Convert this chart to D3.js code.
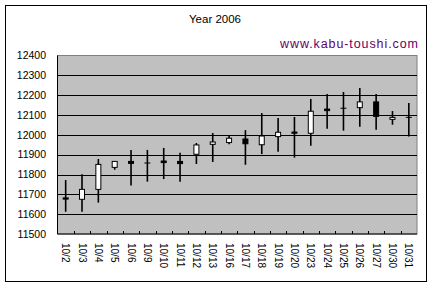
<!DOCTYPE html>
<html>
<head>
<meta charset="utf-8">
<script src="https://cdn.jsdelivr.net/npm/d3@7"></script>
<style>
  body { margin: 0; background: #fff; }
  svg { display: block; font-family: "Liberation Sans", Arial, sans-serif; }
</style>
</head>
<body>
<svg></svg>
<script>
var width = 432,
    height = 288;

var dates = ["10/2", "10/3", "10/4", "10/5", "10/6", "10/9", "10/10", "10/11", "10/12", "10/13", "10/16",
    "10/17", "10/18", "10/19", "10/20", "10/23", "10/24", "10/25", "10/26", "10/27", "10/30", "10/31"];
var open = [11682, 11675, 11725, 11836, 11866, 11858, 11868, 11866, 11902, 11952, 11961,
    11979, 11950, 11991, 12014, 12008, 12130, 12134, 12137, 12166, 12078, 12088];
var high = [11772, 11801, 11878, 11866, 11924, 11924, 11934, 11910, 11959, 12009, 11994,
    12024, 12110, 12085, 12090, 12181, 12206, 12216, 12236, 12206, 12120, 12161];
var low = [11612, 11612, 11658, 11824, 11744, 11764, 11777, 11764, 11853, 11863, 11952,
    11849, 11903, 11915, 11885, 11945, 12031, 12021, 12041, 12026, 12051, 11991];
var close = [11676, 11725, 11851, 11866, 11856, 11858, 11860, 11855, 11949, 11964, 11983,
    11955, 11994, 12013, 12008, 12119, 12122, 12134, 12166, 12093, 12088, 12088];
var yTicks = [11500, 11600, 11700, 11800, 11900, 12000, 12100, 12200, 12300, 12400];

var data = dates.map((d, i) => ({ date: d, o: open[i], h: high[i], l: low[i], c: close[i] }));

var svg = d3.select("svg")
    .attr("width", width)
    .attr("height", height);

var plot = { left: 57.5, right: 417, top: 55.5, bottom: 234 };

var x = d3.scaleBand()
    .domain(dates)
    .range([plot.left, plot.right])
    .padding(0);
var y = d3.scaleLinear()
    .domain([11500, 12400])
    .range([plot.bottom, plot.top]);

// chart frame
svg.append("rect")
    .attr("x", 5.5).attr("y", 5.5)
    .attr("width", 421).attr("height", 276)
    .attr("fill", "#fff").attr("stroke", "#000");

// title + site
svg.append("text")
    .attr("x", 215).attr("y", 23)
    .attr("text-anchor", "middle")
    .attr("font-size", 11.5)
    .text("Year 2006");
svg.append("text")
    .attr("x", 418).attr("y", 48)
    .attr("text-anchor", "end")
    .attr("font-size", 12.5)
    .attr("fill", "#660066")
    .attr("textLength", 138)
    .text("www.kabu-toushi.com");

// plot background
svg.append("rect")
    .attr("x", plot.left).attr("y", plot.top)
    .attr("width", plot.right - plot.left).attr("height", plot.bottom - plot.top)
    .attr("fill", "#c0c0c0").attr("stroke", "#808080");

// gridlines
svg.append("g").selectAll("line")
    .data(yTicks.slice(1, -1))
    .enter().append("line")
    .attr("x1", plot.left).attr("x2", plot.right)
    .attr("y1", d => Math.round(y(d)) + 0.5).attr("y2", d => Math.round(y(d)) + 0.5)
    .attr("stroke", "#000");

// axes lines
svg.append("line")
    .attr("x1", plot.left).attr("x2", plot.left)
    .attr("y1", plot.top).attr("y2", plot.bottom)
    .attr("stroke", "#000");
svg.append("line")
    .attr("x1", plot.left).attr("x2", plot.right)
    .attr("y1", plot.bottom).attr("y2", plot.bottom)
    .attr("stroke", "#000");

// category ticks (inside)
svg.append("g").selectAll("line")
    .data(dates.slice(1))
    .enter().append("line")
    .attr("x1", d => Math.round(x(d)) + 0.5).attr("x2", d => Math.round(x(d)) + 0.5)
    .attr("y1", plot.bottom).attr("y2", plot.bottom - 3)
    .attr("stroke", "#000");

// y labels
svg.append("g").selectAll("text")
    .data(yTicks)
    .enter().append("text")
    .attr("x", 46)
    .attr("y", d => y(d))
    .attr("dy", "0.36em")
    .attr("text-anchor", "end")
    .attr("font-size", 10.5)
    .text(d => d);

// x labels, rotated
svg.append("g").selectAll("text")
    .data(dates)
    .enter().append("text")
    .attr("transform", d => "translate(" + (x(d) + x.bandwidth() / 2 - 3.5) + ",243) rotate(90)")
    .attr("font-size", 10)
    .text(d => d);

// candles
var cx = d => x(d.date) + x.bandwidth() / 2;
var gC = svg.append("g").selectAll("g")
    .data(data)
    .enter().append("g");

gC.append("line")
    .attr("x1", cx).attr("x2", cx)
    .attr("y1", d => y(d.h)).attr("y2", d => y(d.l))
    .attr("stroke", "#000").attr("stroke-width", 1.6);

gC.filter(d => d.o !== d.c).append("rect")
    .attr("x", d => cx(d) - 2.5)
    .attr("width", 5)
    .attr("y", d => y(Math.max(d.o, d.c)))
    .attr("height", d => Math.abs(y(d.o) - y(d.c)))
    .attr("fill", d => d.c > d.o ? "#fff" : "#000")
    .attr("stroke", "#000");

gC.filter(d => d.o === d.c).append("line")
    .attr("x1", d => cx(d) - 3).attr("x2", d => cx(d) + 3)
    .attr("y1", d => y(d.o)).attr("y2", d => y(d.o))
    .attr("stroke", "#000");
</script>
</body>
</html>
